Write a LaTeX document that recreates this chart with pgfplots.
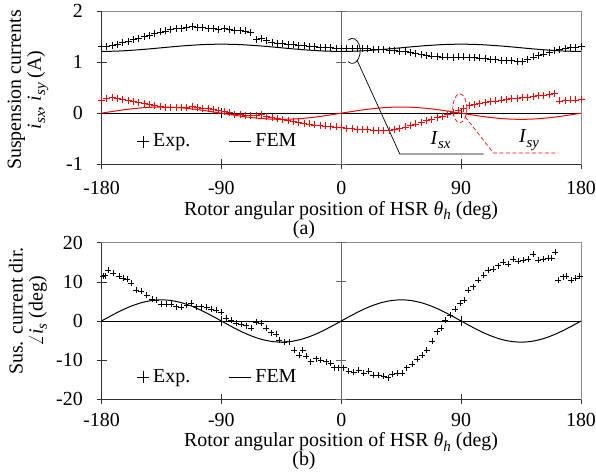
\documentclass[border=0pt]{standalone}
\usepackage{pgfplots}
\pgfplotsset{compat=1.18}
\usepackage{fontspec}
\setmainfont{Liberation Serif}
\definecolor{frame}{gray}{0.55}
\definecolor{cline}{gray}{0.4}
\newcommand\sub[1]{\raisebox{-0.22em}{\fontsize{15}{15}\selectfont\textit{#1}}}
\pgfplotsset{
  common/.style={
    scale only axis, width=479.5bp, xmin=-180, xmax=180, clip=false,
    axis line style={draw=frame, line width=0.6bp},
    xtick={-180,-90,0,90,180}, xticklabels={-180,-90,0,90,180},
    xtick pos=left, ytick pos=left, tick align=center, major tick length=10bp,
    tick style={black!80, line width=0.6bp},
    yticklabel style={anchor=east, inner sep=0pt, xshift=-13.5bp},
    legend columns=2,
    legend style={draw=none, fill=none, inner sep=0pt, outer sep=0pt, anchor=west,
      nodes={inner sep=0pt},
      /tikz/every odd column/.append style={column sep=4bp},
      /tikz/every even column/.append style={column sep=38bp}},
  },
  expleg/.style={legend image code/.code={\draw[black, line width=0.8bp, mark=+, mark size=6bp] plot coordinates {(6bp,0)};}},
  femleg/.style={legend image code/.code={\draw[black, line width=1.2bp] (0bp,0bp) -- (22bp,0bp);}},
}
\pgfplotstableread{
x y
-180 1.30
-176 1.31
-172 1.33
-168 1.35
-164 1.38
-160 1.41
-156 1.44
-152 1.47
-148 1.50
-144 1.53
-140 1.56
-136 1.59
-132 1.61
-128 1.63
-124 1.65
-120 1.66
-116 1.67
-112 1.69
-108 1.68
-104 1.67
-100 1.66
-96 1.65
-92 1.64
-88 1.65
-84 1.63
-80 1.62
-76 1.62
-72 1.61
-68 1.58
-64 1.44
-60 1.46
-56 1.42
-52 1.39
-48 1.37
-44 1.36
-40 1.35
-36 1.34
-32 1.33
-28 1.32
-24 1.31
-20 1.30
-16 1.29
-12 1.29
-8 1.28
-4 1.27
0 1.27
4 1.27
8 1.27
12 1.26
16 1.27
20 1.26
24 1.25
28 1.25
32 1.24
36 1.23
40 1.22
44 1.21
48 1.20
52 1.19
56 1.17
60 1.15
64 1.13
68 1.12
72 1.11
76 1.10
80 1.10
84 1.09
88 1.10
92 1.10
96 1.09
100 1.09
104 1.08
108 1.07
112 1.06
116 1.05
120 1.04
124 1.04
128 1.03
132 1.02
136 1.02
140 1.06
144 1.10
148 1.13
152 1.16
156 1.19
160 1.22
164 1.24
168 1.26
172 1.28
176 1.29
180 1.30
}\expx
\pgfplotstableread{
x y
-180 0.26
-176 0.28
-172 0.30
-168 0.29
-164 0.27
-160 0.25
-156 0.23
-152 0.21
-148 0.19
-144 0.17
-140 0.15
-136 0.13
-132 0.12
-128 0.12
-124 0.11
-120 0.11
-116 0.12
-112 0.13
-108 0.12
-104 0.10
-100 0.09
-96 0.07
-92 0.05
-88 0.03
-84 0.01
-80 -0.02
-76 -0.03
-72 -0.04
-68 -0.05
-64 -0.04
-60 -0.03
-56 -0.06
-52 -0.09
-48 -0.11
-44 -0.13
-40 -0.15
-36 -0.17
-32 -0.18
-28 -0.20
-24 -0.21
-20 -0.23
-16 -0.24
-12 -0.25
-8 -0.26
-4 -0.27
0 -0.28
4 -0.29
8 -0.30
12 -0.31
16 -0.32
20 -0.32
24 -0.33
28 -0.34
32 -0.34
36 -0.33
40 -0.31
44 -0.29
48 -0.27
52 -0.24
56 -0.21
60 -0.18
64 -0.15
68 -0.12
72 -0.09
76 -0.06
80 -0.03
84 0.01
88 0.05
92 0.10
96 0.15
100 0.17
104 0.19
108 0.21
112 0.23
116 0.24
120 0.26
124 0.27
128 0.28
132 0.29
136 0.30
140 0.31
144 0.33
148 0.34
152 0.35
156 0.37
160 0.38
164 0.24
168 0.25
172 0.26
176 0.26
180 0.27
}\expy
\pgfplotstableread{
x y
-180 1.210
-172.5 1.212
-165 1.219
-157.5 1.231
-150 1.245
-142.5 1.262
-135 1.280
-127.5 1.298
-120 1.315
-112.5 1.329
-105 1.341
-97.5 1.348
-90 1.350
-82.5 1.348
-75 1.341
-67.5 1.329
-60 1.315
-52.5 1.298
-45 1.280
-37.5 1.262
-30 1.245
-22.5 1.231
-15 1.219
-7.5 1.212
0 1.210
7.5 1.212
15 1.219
22.5 1.231
30 1.245
37.5 1.262
45 1.280
52.5 1.298
60 1.315
67.5 1.329
75 1.341
82.5 1.348
90 1.350
97.5 1.348
105 1.341
112.5 1.329
120 1.315
127.5 1.298
135 1.280
142.5 1.262
150 1.245
157.5 1.231
165 1.219
172.5 1.212
180 1.210
}\femx
\pgfplotstableread{
x y
-180 0
-172.5 0.031
-165 0.060
-157.5 0.085
-150 0.104
-142.5 0.116
-135 0.120
-127.5 0.116
-120 0.104
-112.5 0.085
-105 0.060
-97.5 0.031
-90 0
-82.5 -0.031
-75 -0.060
-67.5 -0.085
-60 -0.104
-52.5 -0.116
-45 -0.120
-37.5 -0.116
-30 -0.104
-22.5 -0.085
-15 -0.060
-7.5 -0.031
0 0
7.5 0.031
15 0.060
22.5 0.085
30 0.104
37.5 0.116
45 0.120
52.5 0.116
60 0.104
67.5 0.085
75 0.060
82.5 0.031
90 0
97.5 -0.031
105 -0.060
112.5 -0.085
120 -0.104
127.5 -0.116
135 -0.120
142.5 -0.116
150 -0.104
157.5 -0.085
165 -0.060
172.5 -0.031
180 0
}\femy
\pgfplotstableread{
x y
-179 11.5
-177 11.6
-175 12.9
-171 12.2
-167 11.5
-164 11.0
-161 10.6
-157.5 9.6
-154 7.9
-150 7.7
-146 6.6
-142 5.5
-139 5.4
-135 4.3
-131 4.3
-127.5 4.3
-124 3.7
-120 3.5
-116 4.1
-112.5 4.5
-109 3.7
-105 3.7
-101 3.5
-97.5 3.1
-94 2.7
-90 2.2
-86.5 0.8
-82.5 0.3
-79 -0.6
-75 -0.85
-71.5 -1.2
-67.5 -1.9
-64 -0.3
-60 -0.6
-56.5 -1.9
-52.5 -3.0
-49 -3.3
-46.5 -4.9
-43 -5.4
-39 -5.3
-35.5 -7.4
-31.5 -8.7
-29 -7.4
-26.5 -8.9
-23 -10.4
-19 -9.6
-15.5 -10.0
-11.5 -10.4
-8 -10.8
-5.5 -11.9
-2 -11.9
1.75 -11.9
5.5 -12.9
9.2 -13.1
13 -12.5
16.8 -13.3
20.5 -12.9
24.2 -13.8
28 -13.9
31.8 -14.0
35 -14.5
38 -13.6
41.8 -13.3
45.5 -13.3
49.2 -11.9
53 -11.1
56.8 -9.8
60.5 -8.7
64.2 -7.4
68 -5.1
71.8 -2.7
75 -1.9
78 0.3
81.8 1.5
85.5 3.1
89.2 4.5
92.5 5.4
95.5 7.9
99.2 8.8
103 10.4
106.8 11.7
110.5 13.0
114 13.2
118 14.1
121.8 15.0
125.5 14.5
129 15.8
133 15.3
136.8 15.6
140.5 15.8
144 17.0
148 15.6
151.8 15.8
155.5 16.0
158 16.0
160.5 17.6
163 10.4
166.8 11.3
169 11.5
172.5 10.4
176 11.0
179 11.5
}\expang
\pgfplotstableread{
x y
-180 0
-172.5 1.398
-165 2.700
-157.5 3.818
-150 4.677
-142.5 5.216
-135 5.400
-127.5 5.216
-120 4.677
-112.5 3.818
-105 2.700
-97.5 1.398
-90 0
-82.5 -1.398
-75 -2.700
-67.5 -3.818
-60 -4.677
-52.5 -5.216
-45 -5.400
-37.5 -5.216
-30 -4.677
-22.5 -3.818
-15 -2.700
-7.5 -1.398
0 0
7.5 1.398
15 2.700
22.5 3.818
30 4.677
37.5 5.216
45 5.400
52.5 5.216
60 4.677
67.5 3.818
75 2.700
82.5 1.398
90 0
97.5 -1.398
105 -2.700
112.5 -3.818
120 -4.677
127.5 -5.216
135 -5.400
142.5 -5.216
150 -4.677
157.5 -3.818
165 -2.700
172.5 -1.398
180 0
}\femang
\begin{document}
\fontsize{20}{21}\selectfont
\begin{tikzpicture}[x=1bp,y=1bp]
\path[use as bounding box] (0,0) rectangle (596,474);
% ---------------- (a)
\begin{axis}[common, at={(101.5bp,309.7bp)}, anchor=south west, height=153.3bp,
  ymin=-1, ymax=2, ytick={-1,0,1,2}, yticklabels={-1,0,1,2},
  xticklabel style={anchor=center, inner sep=0pt, yshift=-19bp},
  legend style={at={(axis description cs:0.0744,0.1467)}}]
\draw[black!80, line width=0.7bp] (rel axis cs:0,1) -- (rel axis cs:0,0) -- (rel axis cs:1,0);
\draw[cline, line width=1.3bp] (axis cs:0,-1) -- (axis cs:0,2);
\draw[black, line width=0.6bp] (axis cs:-180,0) -- (axis cs:180,0);
\draw[cline, line width=0.7bp] ([xshift=-5bp]axis cs:0,-1) -- ([xshift=5bp]axis cs:0,-1);
\draw[cline, line width=0.7bp] ([xshift=-5bp]axis cs:0,1) -- ([xshift=5bp]axis cs:0,1);
\draw[cline, line width=0.7bp] ([xshift=-5bp]axis cs:0,2) -- ([xshift=5bp]axis cs:0,2);
\draw[black, line width=0.7bp] ([yshift=-5bp]axis cs:-90,0) -- ([yshift=5bp]axis cs:-90,0);
\draw[black, line width=0.7bp] ([yshift=-5bp]axis cs:90,0) -- ([yshift=5bp]axis cs:90,0);
\addplot[only marks, mark=+, mark size=3.5bp, black, line width=0.8bp, expleg] table {\expx};
\addlegendentry{Exp.}
\addplot[black, line width=1bp, smooth, femleg] table {\femx};
\addlegendentry{FEM}
\addplot[only marks, mark=+, mark size=3.5bp, red, line width=0.8bp, forget plot] table {\expy};
\addplot[red, line width=1bp, smooth, forget plot] table {\femy};
\draw[black, line width=0.7bp] ([xshift=-4bp, yshift=10.8bp]axis cs:8.25,1.22) arc[start angle=120, end angle=-120, x radius=8bp, y radius=12.5bp];
\draw[red, dash pattern=on 4bp off 2.5bp, line width=0.7bp] (axis cs:89,0.095) ellipse[x radius=7bp, y radius=14.5bp];
\draw[black, line width=0.7bp] (axis cs:11.8,1.04) -- (axis cs:44,-0.80) -- (axis cs:106.8,-0.80);
\draw[red, dash pattern=on 4bp off 2.5bp, line width=0.7bp] (axis cs:93,-0.07) -- (axis cs:114.3,-0.78) -- (axis cs:163,-0.78);
\node at (axis cs:74.6,-0.53) {\textit{I}\sub{sx}};
\node at (axis cs:141,-0.53) {\textit{I}\sub{sy}};
\end{axis}
% ---------------- (b)
\begin{axis}[common, at={(101.5bp,74.7bp)}, anchor=south west, height=156.6bp,
  ymin=-20, ymax=20, ytick={-20,-10,0,10,20}, yticklabels={-20,-10,0,10,20},
  xticklabel style={anchor=center, inner sep=0pt, yshift=-16bp},
  legend style={at={(axis description cs:0.0744,0.14)}}]
\draw[black!80, line width=0.7bp] (rel axis cs:0,1) -- (rel axis cs:0,0) -- (rel axis cs:1,0);
\draw[cline, line width=1.3bp] (axis cs:0,-20) -- (axis cs:0,20);
\draw[black, line width=0.6bp] (axis cs:-180,0) -- (axis cs:180,0);
\draw[cline, line width=0.7bp] ([xshift=-5bp]axis cs:0,-20) -- ([xshift=5bp]axis cs:0,-20);
\draw[cline, line width=0.7bp] ([xshift=-5bp]axis cs:0,-10) -- ([xshift=5bp]axis cs:0,-10);
\draw[cline, line width=0.7bp] ([xshift=-5bp]axis cs:0,10) -- ([xshift=5bp]axis cs:0,10);
\draw[cline, line width=0.7bp] ([xshift=-5bp]axis cs:0,20) -- ([xshift=5bp]axis cs:0,20);
\draw[black, line width=0.7bp] ([yshift=-5bp]axis cs:-90,0) -- ([yshift=5bp]axis cs:-90,0);
\draw[black, line width=0.7bp] ([yshift=-5bp]axis cs:90,0) -- ([yshift=5bp]axis cs:90,0);
\addplot[only marks, mark=+, mark size=3bp, black, line width=0.6bp, expleg] table {\expang};
\addlegendentry{Exp.}
\addplot[black, line width=1bp, smooth, femleg] table {\femang};
\addlegendentry{FEM}
\end{axis}
% ---------------- labels
\node[rotate=90, align=center, font=\fontsize{20}{20}\selectfont] at (28,384) {Suspension currents\\\textit{i}\sub{sx}, \textit{i}\sub{sy} (A)};
\node[rotate=90, align=center, font=\fontsize{20}{20}\selectfont] at (28,163) {Sus. current dir.\\$\angle$\textit{i}\sub{s} (deg)};
\node[anchor=base, inner sep=0pt] at (341,258.5) {Rotor angular position of HSR \textit{θ}\sub{h} (deg)};
\node[anchor=base, inner sep=0pt] at (304,239) {(a)};
\node[anchor=base, inner sep=0pt] at (341,27) {Rotor angular position of HSR \textit{θ}\sub{h} (deg)};
\node[anchor=base, inner sep=0pt] at (304,8) {(b)};
\end{tikzpicture}
\end{document}
